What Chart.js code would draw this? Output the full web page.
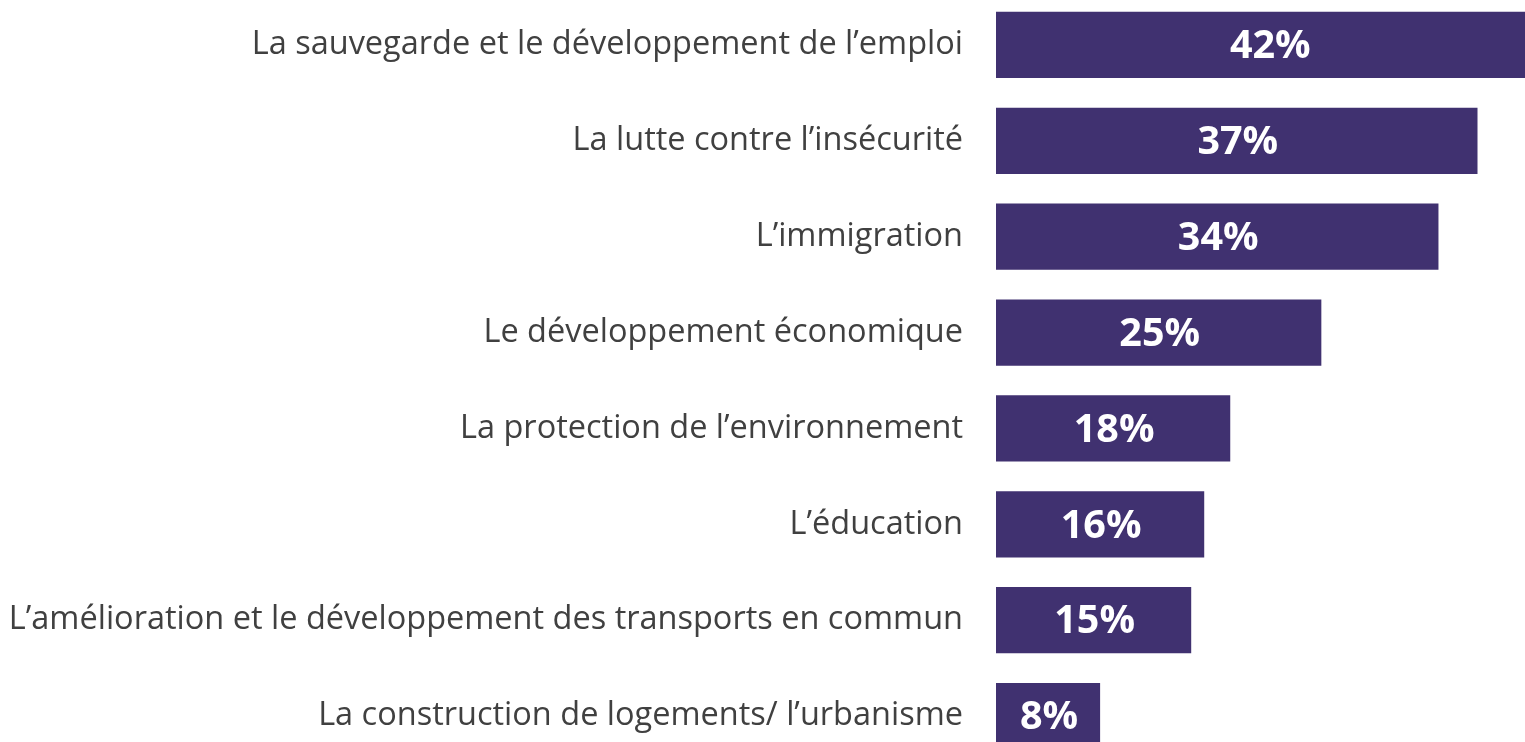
<!DOCTYPE html>
<html>
<head>
<meta charset="utf-8">
<script src="https://cdn.jsdelivr.net/npm/chart.js@4"></script>
<style>
  html, body { margin: 0; padding: 0; background: #fff; overflow: hidden; }
  #wrap { position: absolute; left: 0; top: -3px; width: 1566px; height: 767px; }
</style>
</head>
<body>
<div id="wrap"><canvas id="chart"></canvas></div>
<script>
const categories = [
  'La sauvegarde et le développement de l’emploi',
  'La lutte contre l’insécurité',
  'L’immigration',
  'Le développement économique',
  'La protection de l’environnement',
  'L’éducation',
  'L’amélioration et le développement des transports en commun',
  'La construction de logements/ l’urbanisme'
];
const values = [42, 37, 34, 25, 18, 16, 15, 8];

// etichette bianche al centro di ogni barra
const valueLabels = {
  id: 'valueLabels',
  afterDatasetsDraw(chart) {
    const ctx = chart.ctx;
    const meta = chart.getDatasetMeta(0);
    ctx.save();
    ctx.fillStyle = '#ffffff';
    ctx.font = 'bold 39.5px "Open Sans"';
    ctx.textAlign = 'center';
    ctx.textBaseline = 'middle';
    meta.data.forEach((bar, i) => {
      const x = (bar.x + bar.base) / 2;
      ctx.fillText(values[i] + '%', x + 1, bar.y + 2);
    });
    ctx.restore();
  }
};

new Chart(document.getElementById('chart'), {
  type: 'bar',
  data: {
    labels: categories,
    datasets: [{
      data: values,
      backgroundColor: '#403170',
      borderWidth: 0,
      categoryPercentage: 1,
      barPercentage: 0.69
    }]
  },
  options: {
    indexAxis: 'y',
    responsive: true,
    maintainAspectRatio: false,
    animation: false,
    layout: { padding: 0 },
    scales: {
      x: {
        display: false,
        min: 0,
        max: 43.8
      },
      y: {
        grid: { display: false },
        border: { display: false },
        ticks: {
          color: '#404040',
          font: { family: '"Open Sans"', size: 32.5 },
          padding: 25
        },
        afterFit: (axis) => {
          axis.width = 996;
          axis.paddingTop = 0;
          axis.paddingBottom = 0;
        }
      }
    },
    plugins: {
      legend: { display: false },
      tooltip: { enabled: false }
    }
  },
  plugins: [valueLabels]
});
</script>
</body>
</html>
